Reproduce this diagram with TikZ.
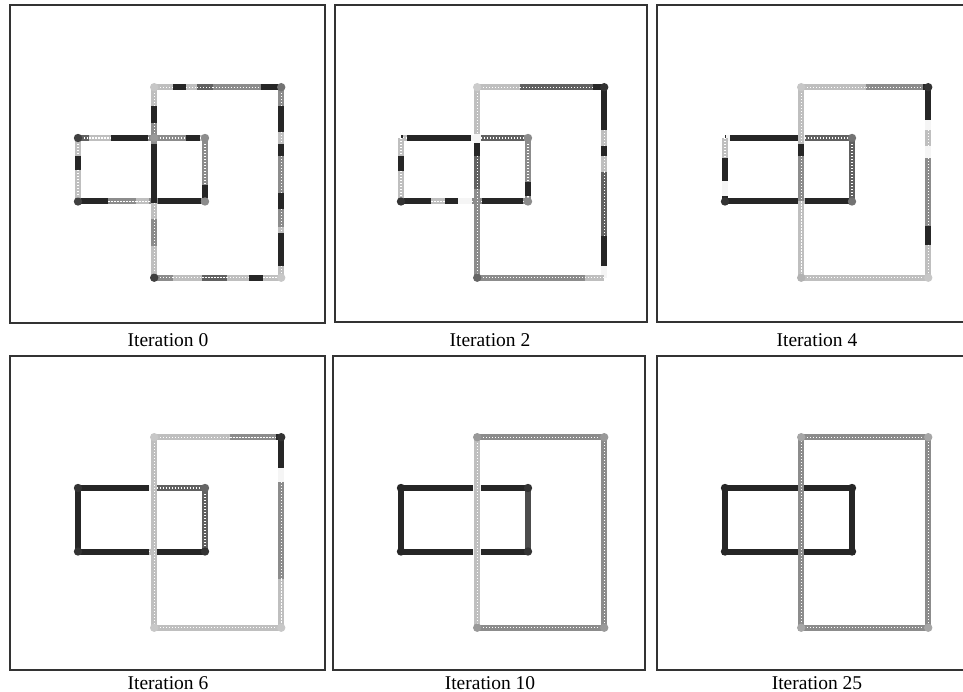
\documentclass[tikz,border=0pt]{standalone}
\usepackage{fontspec}
\setmainfont{Liberation Serif}
\tikzset{
	frm/.style={draw=black!80, line width=1.3pt},
	lbl/.style={anchor=base, font=\fontsize{19.5}{22}\selectfont},
	sg/.style={line width=6pt, line cap=butt},
	hatch/.style={sg, postaction={draw=white, line width=1.1pt, dash pattern=on 1.1pt off 1.9pt}},
	blk/.style={sg, draw=black!85},
	dk/.style={hatch, draw=black!62},
	md/.style={hatch, draw=black!45},
	lt/.style={hatch, draw=black!25},
	wt/.style={sg, draw=black!4},
	grid/.style={x=12.7pt, y=-12.7pt}
}
\newcommand{\dotat}[2]{\fill[#1] (#2) circle (4.2pt);}
\begin{document}
\begin{tikzpicture}[x=1pt, y=-1pt]
	\useasboundingbox (0,0) rectangle (963,692);
	\clip (0,0) rectangle (963,692);
	\fill[white] (0,0) rectangle (963,692);

	% frames
	\draw[frm] (10,5) rectangle (325,323);
	\draw[frm] (335,5) rectangle (647,322);
	\draw[frm] (657,5) rectangle (975,322);
	\draw[frm] (10,356) rectangle (325,670);
	\draw[frm] (333,356) rectangle (645,670);
	\draw[frm] (657,356) rectangle (975,670);

	% labels
	\node[lbl] (it0) at (168,346) {Iteration 0};
	\node[lbl] (it2) at (490,346) {Iteration 2};
	\node[lbl] (it4) at (817,346) {Iteration 4};
	\node[lbl] (it6) at (168,689) {Iteration 6};
	\node[lbl] (it10) at (490,689) {Iteration 10};
	\node[lbl] (it25) at (817,689) {Iteration 25};

	% iteration 0
	\begin{scope}[shift={(78pt,-138pt)}, grid]
		\draw[dk] (0,0) -- (0.9,0); \draw[lt] (0.9,0) -- (2.6,0); \draw[blk] (2.6,0) -- (5.5,0);
		\draw[md] (5.5,0) -- (8.5,0); \draw[blk] (8.5,0) -- (9.6,0); \draw[lt] (9.6,0) -- (10,0);
		\draw[blk] (0,5) -- (2.4,5); \draw[md] (2.4,5) -- (4.6,5); \draw[lt] (4.6,5) -- (5.6,5);
		\draw[md] (5.6,5) -- (6.3,5); \draw[blk] (6.3,5) -- (9.7,5); \draw[md] (9.7,5) -- (10,5);
		\draw[lt] (0,0) -- (0,1.4); \draw[blk] (0,1.4) -- (0,2.5); \draw[lt] (0,2.5) -- (0,5);
		\draw[md] (10,0) -- (10,3.7); \draw[blk] (10,3.7) -- (10,4.7); \draw[md] (10,4.7) -- (10,5);
		\draw[lt] (6,-4) -- (6,-2.5); \draw[blk] (6,-2.5) -- (6,-1.2); \draw[md] (6,-1.2) -- (6,0.5);
		\draw[blk] (6,0.5) -- (6,5.1); \draw[lt] (6,5.1) -- (6,6.4); \draw[md] (6,6.4) -- (6,8.5);
		\draw[lt] (6,8.5) -- (6,11);
		\draw[lt] (6,-4) -- (7.5,-4); \draw[blk] (7.5,-4) -- (8.5,-4); \draw[lt] (8.5,-4) -- (9.4,-4);
		\draw[dk] (9.4,-4) -- (10.6,-4); \draw[md] (10.6,-4) -- (14.4,-4); \draw[blk] (14.4,-4) -- (16,-4);
		\draw[md] (16,-4) -- (16,-2.5); \draw[blk] (16,-2.5) -- (16,-0.5); \draw[lt] (16,-0.5) -- (16,0.5);
		\draw[blk] (16,0.5) -- (16,1.4); \draw[md] (16,1.4) -- (16,4.3); \draw[blk] (16,4.3) -- (16,5.6);
		\draw[md] (16,5.6) -- (16,7); \draw[lt] (16,7) -- (16,7.5); \draw[blk] (16,7.5) -- (16,10.1);
		\draw[lt] (16,10.1) -- (16,11);
		\draw[md] (6,11) -- (7.5,11); \draw[lt] (7.5,11) -- (9.8,11); \draw[dk] (9.8,11) -- (11.7,11);
		\draw[lt] (11.7,11) -- (13.5,11); \draw[blk] (13.5,11) -- (14.6,11); \draw[lt] (14.6,11) -- (16,11);
		\dotat{black!75}{0,0} \dotat{black!75}{0,5} \dotat{black!75}{6,11}
		\dotat{black!45}{10,0} \dotat{black!45}{10,5} \dotat{black!55}{16,-4} \dotat{black!40}{6,0}
		\dotat{black!22}{6,-4} \dotat{black!22}{16,11}
	\end{scope}

	% iteration 2
	\begin{scope}[shift={(401pt,-138pt)}, grid]
		\draw[blk] (0,0) -- (0.15,0); \draw[lt] (0.15,0) -- (0.5,0); \draw[blk] (0.5,0) -- (5.5,0);
		\draw[wt] (5.5,0) -- (6.3,0); \draw[dk] (6.3,0) -- (9.7,0); \draw[md] (9.7,0) -- (10,0);
		\draw[blk] (0,5) -- (2.4,5); \draw[lt] (2.4,5) -- (3.5,5); \draw[blk] (3.5,5) -- (4.5,5);
		\draw[wt] (4.5,5) -- (5.6,5); \draw[md] (5.6,5) -- (6.4,5); \draw[blk] (6.4,5) -- (9.6,5);
		\draw[md] (9.6,5) -- (10,5);
		\draw[lt] (0,0) -- (0,1.4); \draw[blk] (0,1.4) -- (0,2.6); \draw[lt] (0,2.6) -- (0,5);
		\draw[md] (10,0) -- (10,3.5); \draw[blk] (10,3.5) -- (10,4.6); \draw[md] (10,4.6) -- (10,5);
		\draw[lt] (6,-4) -- (6,-0.3); \draw[wt] (6,-0.3) -- (6,0.4); \draw[blk] (6,0.4) -- (6,1.4);
		\draw[dk] (6,1.4) -- (6,4); \draw[md] (6,4) -- (6,11);
		\draw[lt] (6,-4) -- (9.4,-4); \draw[dk] (9.4,-4) -- (15.1,-4); \draw[blk] (15.1,-4) -- (16,-4);
		\draw[blk] (16,-4) -- (16,-0.6); \draw[lt] (16,-0.6) -- (16,0.6); \draw[blk] (16,0.6) -- (16,1.4);
		\draw[lt] (16,1.4) -- (16,2.7); \draw[dk] (16,2.7) -- (16,7.7); \draw[blk] (16,7.7) -- (16,10.1);
		\draw[wt] (16,10.1) -- (16,11);
		\draw[md] (6,11) -- (14.5,11); \draw[lt] (14.5,11) -- (16,11);
		\dotat{black!80}{0,5} \dotat{black!80}{16,-4} \dotat{black!60}{6,11}
		\dotat{black!45}{10,0} \dotat{black!45}{10,5} \dotat{black!20}{6,-4}
	\end{scope}

	% iteration 4
	\begin{scope}[shift={(725pt,-138pt)}, grid]
		\draw[blk] (0,0) -- (0.1,0); \draw[wt] (0.1,0) -- (0.4,0); \draw[blk] (0.4,0) -- (5.8,0);
		\draw[wt] (5.8,0) -- (6.3,0); \draw[dk] (6.3,0) -- (10,0);
		\draw[blk] (0,5) -- (5.8,5); \draw[lt] (5.8,5) -- (6.3,5); \draw[blk] (6.3,5) -- (9.8,5);
		\draw[md] (9.8,5) -- (10,5);
		\draw[lt] (0,0) -- (0,1.6); \draw[blk] (0,1.6) -- (0,3.4); \draw[wt] (0,3.4) -- (0,4.6);
		\draw[blk] (0,4.6) -- (0,5);
		\draw[dk] (10,0) -- (10,5);
		\draw[lt] (6,-4) -- (6,0.5); \draw[blk] (6,0.5) -- (6,1.4); \draw[md] (6,1.4) -- (6,5);
		\draw[lt] (6,5) -- (6,11);
		\draw[lt] (6,-4) -- (11.1,-4); \draw[md] (11.1,-4) -- (15.6,-4); \draw[blk] (15.6,-4) -- (16,-4);
		\draw[blk] (16,-4) -- (16,-1.4); \draw[wt] (16,-1.4) -- (16,-0.6); \draw[lt] (16,-0.6) -- (16,0.6);
		\draw[wt] (16,0.6) -- (16,1.6); \draw[md] (16,1.6) -- (16,6.9); \draw[blk] (16,6.9) -- (16,8.4);
		\draw[lt] (16,8.4) -- (16,11);
		\draw[lt] (6,11) -- (16,11);
		\dotat{black!80}{0,5} \dotat{black!80}{16,-4} \dotat{black!55}{10,0} \dotat{black!55}{10,5}
		\dotat{black!22}{6,-4} \dotat{black!30}{6,11} \dotat{black!22}{16,11}
	\end{scope}

	% iteration 6
	\begin{scope}[shift={(78pt,-488pt)}, grid]
		\draw[blk] (0,0) -- (5.6,0); \draw[wt] (5.6,0) -- (6.2,0); \draw[dk] (6.2,0) -- (10,0);
		\draw[blk] (0,5) -- (5.6,5); \draw[lt] (5.6,5) -- (6.2,5); \draw[blk] (6.2,5) -- (10,5);
		\draw[blk] (0,0) -- (0,5);
		\draw[dk] (10,0) -- (10,5);
		\draw[lt] (6,-4) -- (6,11);
		\draw[lt] (6,-4) -- (12,-4); \draw[md] (12,-4) -- (15.6,-4); \draw[blk] (15.6,-4) -- (16,-4);
		\draw[blk] (16,-4) -- (16,-1.6); \draw[wt] (16,-1.6) -- (16,-0.5); \draw[md] (16,-0.5) -- (16,7.2);
		\draw[lt] (16,7.2) -- (16,11);
		\draw[lt] (6,11) -- (16,11);
		\dotat{black!80}{0,0} \dotat{black!80}{0,5} \dotat{black!80}{10,5} \dotat{black!60}{10,0}
		\dotat{black!80}{16,-4} \dotat{black!22}{6,-4} \dotat{black!22}{6,11} \dotat{black!22}{16,11}
	\end{scope}

	% iteration 10
	\begin{scope}[shift={(401pt,-488pt)}, grid]
		\draw[blk] (0,0) -- (5.7,0); \draw[wt] (5.7,0) -- (6.3,0); \draw[blk] (6.3,0) -- (10,0);
		\draw[blk] (0,5) -- (5.7,5); \draw[wt] (5.7,5) -- (6.3,5); \draw[blk] (6.3,5) -- (10,5);
		\draw[blk] (0,0) -- (0,5);
		\draw[blk, draw=black!70] (10,0) -- (10,5);
		\draw[lt] (6,-4) -- (6,11);
		\draw[md] (6,-4) -- (16,-4) -- (16,11) -- (6,11);
		\dotat{black!85}{0,0} \dotat{black!85}{0,5} \dotat{black!80}{10,0} \dotat{black!80}{10,5}
		\dotat{black!40}{6,-4} \dotat{black!40}{16,-4} \dotat{black!40}{16,11} \dotat{black!40}{6,11}
	\end{scope}

	% iteration 25
	\begin{scope}[shift={(725pt,-488pt)}, grid]
		\draw[blk] (0,0) -- (10,0) -- (10,5) -- (0,5) -- cycle;
		\draw[md] (6,-4) -- (16,-4) -- (16,11) -- (6,11) -- cycle;
		\dotat{black!85}{0,0} \dotat{black!85}{0,5} \dotat{black!85}{10,0} \dotat{black!85}{10,5}
		\dotat{black!35}{6,-4} \dotat{black!35}{16,-4} \dotat{black!35}{16,11} \dotat{black!35}{6,11}
	\end{scope}
\end{tikzpicture}
\end{document}
